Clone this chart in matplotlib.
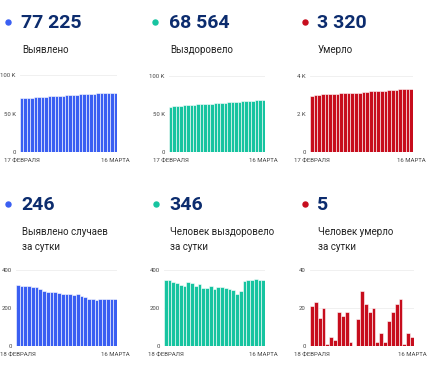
import matplotlib
matplotlib.use("Agg")
import matplotlib.pyplot as plt
from matplotlib.ticker import FixedLocator

plt.rcParams['font.family'] = ['Roboto', 'DejaVu Sans']

# cumulative, 17 Feb .. 16 Mar
confirmed_total = [69757, 70079, 70397, 70713, 71029, 71341, 71649, 71949, 72237, 72519,
                   72803, 73089, 73370, 73645, 73917, 74190, 74460, 74732, 74997, 75255,
                   75505, 75750, 75994, 76240, 76486, 76733, 76979, 77225]
recovered_total = [59859, 60204, 60549, 60884, 61214, 61536, 61851, 62186, 62516, 62834,
                   63159, 63464, 63769, 64087, 64389, 64701, 65013, 65318, 65616, 65912,
                   66188, 66476, 66816, 67166, 67516, 67868, 68218, 68564]
deaths_total = [2973, 2994, 3017, 3032, 3052, 3053, 3058, 3061, 3079, 3095,
                3113, 3115, 3115, 3129, 3158, 3180, 3198, 3218, 3220, 3227,
                3229, 3242, 3260, 3282, 3307, 3308, 3315, 3320]

# daily, 18 Feb .. 16 Mar
confirmed_daily = [322, 318, 316, 316, 312, 308, 300, 288, 282, 284, 286, 281, 275, 272,
                   273, 270, 272, 265, 258, 250, 245, 244, 246, 246, 247, 246, 246]
recovered_daily = [345, 345, 335, 330, 322, 315, 335, 330, 318, 325, 305, 305, 318, 302,
                   312, 312, 305, 298, 296, 276, 288, 340, 350, 350, 352, 350, 346]
deaths_daily = [21, 23, 15, 20, 1, 5, 3, 18, 16, 18, 2, 0, 14, 29, 22, 18, 20, 2, 7, 2,
                13, 18, 22, 25, 1, 7, 5]

big_numbers = ['77 225', '68 564', '3 320', '246', '346', '5']
titles = ['Выявлено', 'Выздоровело', 'Умерло',
          'Выявлено случаев\nза сутки', 'Человек выздоровело\nза сутки', 'Человек умерло\nза сутки']
first_dates = ['17 ФЕВРАЛЯ', '17 ФЕВРАЛЯ', '17 ФЕВРАЛЯ', '18 ФЕВРАЛЯ', '18 ФЕВРАЛЯ', '18 ФЕВРАЛЯ']
last_date = '16 МАРТА'
yticks = [[0, 50000, 100000], [0, 50000, 100000], [0, 2000, 4000],
          [0, 200, 400], [0, 200, 400], [0, 20, 40]]
yticklabels = [['0', '50 K', '100 K'], ['0', '50 K', '100 K'], ['0', '2 K', '4 K'],
               ['0', '200', '400'], ['0', '200', '400'], ['0', '20', '40']]

BLUE = '#3a5ff2'
TEAL = '#16c4a0'
RED = '#c70d1d'
NAVY = '#0c2c6e'
series = [confirmed_total, recovered_total, deaths_total,
          confirmed_daily, recovered_daily, deaths_daily]
colors = [BLUE, TEAL, RED, BLUE, TEAL, RED]

W, H = 429, 368
fig = plt.figure(figsize=(W / 100, H / 100), dpi=100)

# axes boxes in pixels: left, right, top, bottom
boxes = [(20, 117, 75, 152), (169, 265, 76, 152), (310, 413, 76, 152),
         (16, 117, 270, 346), (164, 265, 270, 346), (310, 414, 270, 346)]
# text anchors: dot x, text x, number y
anchors = [(8, 22, 22), (155, 170, 22), (305, 318, 22),
           (8, 22, 204), (156, 170, 204), (305, 318, 204)]

for i in range(6):
    l, r, t, b = boxes[i]
    ax = fig.add_axes([l / W, 1 - b / H, (r - l) / W, (b - t) / H])
    vals = series[i]
    x = list(range(len(vals)))
    ax.bar(x, vals, width=1.0, color=colors[i], edgecolor='white', linewidth=0.4, zorder=2)
    ax.set_xlim(-0.5, len(vals) - 0.5)
    ax.set_ylim(0, yticks[i][-1])
    ax.yaxis.set_major_locator(FixedLocator(yticks[i]))
    ax.set_yticklabels(yticklabels[i])
    ax.set_xticks([0, len(vals) - 1])
    ax.set_xticklabels([first_dates[i], last_date])
    ax.tick_params(length=0, labelsize=4.3, colors='#444444', pad=3)
    ax.tick_params(axis='x', pad=4)
    ax.grid(axis='y', color='#eeeeee', linewidth=0.6, zorder=0)
    for s in ax.spines.values():
        s.set_visible(False)

# overlay in pixel coordinates for headers
ov = fig.add_axes([0, 0, 1, 1])
ov.set_xlim(0, W)
ov.set_ylim(H, 0)
ov.axis('off')
for i in range(6):
    dx, tx, ny = anchors[i]
    ov.plot(dx, ny, 'o', color=colors[i], markersize=3.6)
    ov.text(tx - 1, ny + 1, big_numbers[i], fontsize=14, fontweight='bold',
            color=NAVY, va='center', ha='left')
    lines = titles[i].split('\n')
    for k, line in enumerate(lines):
        ov.text(tx, ny + 28 + 15 * k, line, fontsize=7, color='#222222',
                va='center', ha='left')

fig.savefig('out.png', dpi=100)
